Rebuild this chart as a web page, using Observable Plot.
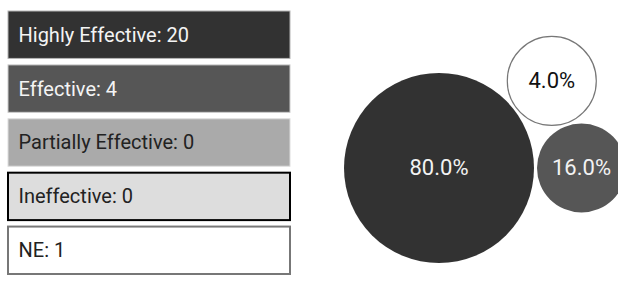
<!DOCTYPE html>
<html><head><meta charset="utf-8">
<script src="https://cdn.jsdelivr.net/npm/d3@7"></script>
<script src="https://cdn.jsdelivr.net/npm/@observablehq/plot@0.6"></script>
<style>
body{margin:0;background:#fff;font-family:Roboto,sans-serif}
#wrap{position:relative;width:618px;height:281px;overflow:hidden}
#wrap svg{position:absolute;left:0;top:0;}
</style></head><body><div id="wrap"></div>
<script>
// Data
const categories = ["Highly Effective", "Effective", "Partially Effective", "Ineffective", "NE"];
const counts = [20, 4, 0, 0, 1];

// Styles
const fills = ["#323232", "#565656", "#aaaaaa", "#dddddd", "#ffffff"];
const strokes = ["#b4b4b4", "#cccccc", "#dddddd", "#000000", "#777777"];
const strokeWidths = [1, 1, 1, 2, 2];
const textFills = ["#f4f4f4", "#f4f4f4", "#222222", "#222222", "#222222"];
const bubbleText = ["#f2f2f2", "#f2f2f2", "#222222", "#222222", "#111111"];

const total = d3.sum(counts);
const rows = categories.map((label, i) => ({label, count: counts[i], i}));

const left = Plot.plot({
  width: 300, height: 281,
  marginLeft: 8, marginRight: 10, marginTop: 0, marginBottom: 0,
  x: {axis: null},
  y: {axis: null, domain: categories, range: [11, 274], paddingInner: 0.12, paddingOuter: 0, align: 0, round: false},
  color: {type: "identity"},
  style: {fontFamily: "Roboto", background: "transparent"},
  marks: [
    Plot.cell(rows, {y: "label", fill: d => fills[d.i], stroke: d => strokes[d.i], strokeWidth: d => strokeWidths[d.i], inset: 0}),
    Plot.text(rows, {y: "label", frameAnchor: "left", dx: 10, textAnchor: "start",
      text: d => `${d.label}: ${d.count}`, fill: d => textFills[d.i], fontSize: 20})
  ]
});

// Bubbles
const maxR = 95, minR = 44.5, pad = 1.5;
const maxCount = d3.max(counts);
const circles = rows.filter(d => d.count > 0).map(d => {
  const rr = Math.max(minR, maxR * Math.sqrt(d.count / maxCount));
  return {...d, pct: d.count / total, rr, r: rr + pad};
});
d3.packSiblings(circles);
const xmin = d3.min(circles, d => d.x - d.rr), xmax = d3.max(circles, d => d.x + d.rr);
const ymin = d3.min(circles, d => d.y - d.rr), ymax = d3.max(circles, d => d.y + d.rr);
const px0 = 343.5, py0 = 262.5;

const right = Plot.plot({
  width: 618, height: 281, margin: 0,
  x: {axis: null, domain: [xmin, xmax], range: [px0, px0 + (xmax - xmin)]},
  y: {axis: null, domain: [ymin, ymax], range: [py0, py0 - (ymax - ymin)]},
  r: {type: "identity"},
  color: {type: "identity"},
  style: {fontFamily: "Roboto", background: "transparent"},
  marks: [
    Plot.dot(circles, {x: "x", y: "y", r: "rr", fill: d => fills[d.i],
      stroke: d => d.i === 4 ? "#777777" : "none", strokeWidth: 1.2}),
    Plot.text(circles, {x: "x", y: "y", text: d => (d.pct * 100).toFixed(1) + "%",
      fill: d => bubbleText[d.i], fontSize: 22})
  ]
});

const wrap = document.getElementById("wrap");
wrap.appendChild(left);
wrap.appendChild(right);
right.style.pointerEvents = "none";
</script></body></html>
